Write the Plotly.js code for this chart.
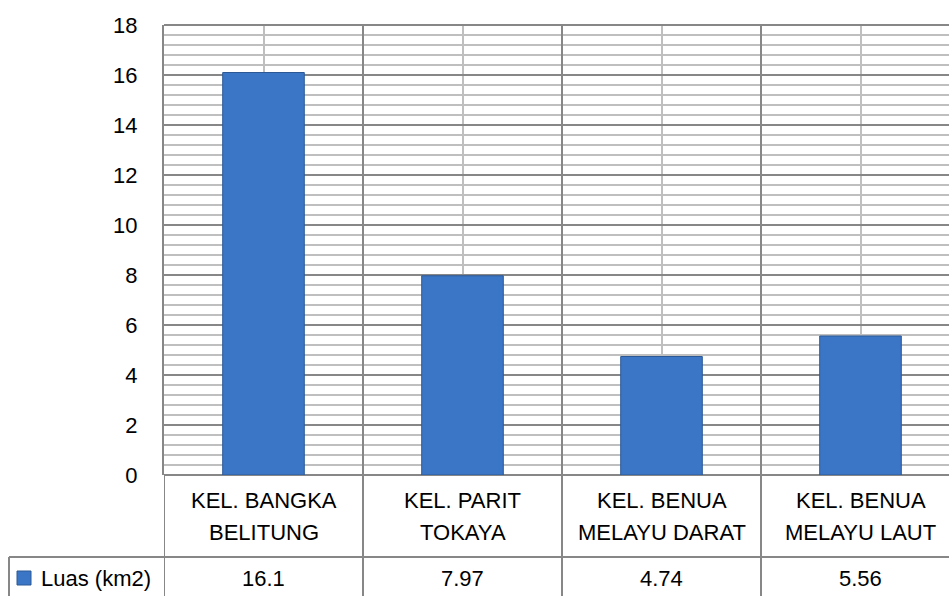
<!DOCTYPE html>
<html><head><meta charset="utf-8">
<script src="https://cdn.plot.ly/plotly-3.0.1.min.js"></script>
<style>html,body{margin:0;padding:0;background:#fff}</style>
</head><body><div id="chart" style="width:949px;height:596px"></div>
<script>
const categoryLine1 = ["KEL. BANGKA", "KEL. PARIT", "KEL. BENUA", "KEL. BENUA"];
const categoryLine2 = ["BELITUNG", "TOKAYA", "MELAYU DARAT", "MELAYU LAUT"];
const seriesName = "Luas (km2)";
const luas = [16.1, 7.97, 4.74, 5.56];
const valueLabels = ["16.1", "7.97", "4.74", "5.56"];
const yTicks = [0, 2, 4, 6, 8, 10, 12, 14, 16, 18];

const idx = categoryLine1.map((_, i) => i);
const FONT = "'Liberation Sans', Arial, sans-serif";
const FS = 22;
const TXT = "#000000";
const LINE = "#878787";
const MINOR = "#bfbfbf";

const W = 949, H = 596, L = 164, T = 25, B = 475;
const plotH = B - T, plotW = W - L;
const py = p => (B - p) / plotH;        // pixel -> paper y
const px = p => (p - L) / plotW;        // pixel -> paper x

const trace = {
  type: "bar",
  x: idx,
  y: luas,
  name: seriesName,
  width: 0.41,
  marker: { color: "#3b76c6", line: { color: "#2c5896", width: 1 } },
  hoverinfo: "skip",
  showlegend: false
};

const shapes = [];
// table vertical lines at category boundaries
for (let i = 0; i <= idx.length; i++) {
  shapes.push({ type: "line", xref: "x", yref: "paper", x0: i - 0.5, x1: i - 0.5, y0: 0, y1: py(600), line: { color: LINE, width: 2 } });
}
// horizontal line between labels row and values row
shapes.push({ type: "line", xref: "paper", yref: "paper", x0: px(9), x1: 1, y0: py(557), y1: py(557), line: { color: LINE, width: 2 } });
// left cell border
shapes.push({ type: "line", xref: "paper", yref: "paper", x0: px(9), x1: px(9), y0: py(557), y1: py(600), line: { color: LINE, width: 2 } });
// plot top border
shapes.push({ type: "line", xref: "paper", yref: "paper", x0: 0, x1: 1, y0: 1, y1: 1, line: { color: LINE, width: 2 } });
// legend key
shapes.push({ type: "rect", xref: "paper", yref: "paper", x0: px(17), x1: px(31), y0: py(571), y1: py(585), fillcolor: "#3b76c6", line: { color: "#2c5896", width: 1 } });

const annotations = [];
idx.forEach(i => {
  annotations.push({ x: i, xref: "x", y: py(501), yref: "paper", text: categoryLine1[i], showarrow: false, xanchor: "center", yanchor: "middle", font: { family: FONT, size: FS, color: TXT } });
  annotations.push({ x: i, xref: "x", y: py(532), yref: "paper", text: categoryLine2[i], showarrow: false, xanchor: "center", yanchor: "middle", font: { family: FONT, size: FS, color: TXT } });
  annotations.push({ x: i, xref: "x", y: py(578), yref: "paper", text: valueLabels[i], showarrow: false, xanchor: "center", yanchor: "middle", font: { family: FONT, size: FS, color: TXT } });
});
annotations.push({ x: px(39), xref: "paper", y: py(578), yref: "paper", text: seriesName, showarrow: false, xanchor: "left", yanchor: "middle", font: { family: FONT, size: FS, color: TXT } });

const layout = {
  width: W, height: H,
  margin: { l: L, r: 0, t: T, b: H - B, pad: 0, autoexpand: false },
  paper_bgcolor: "#ffffff", plot_bgcolor: "#ffffff",
  font: { family: FONT, size: FS, color: TXT },
  showlegend: false,
  xaxis: {
    range: [-0.5, -0.5 + plotW / 199],
    tick0: -0.5, dtick: 1, showticklabels: false, ticks: "",
    showgrid: true, gridcolor: LINE, gridwidth: 2,
    minor: { tick0: 0, dtick: 1, showgrid: true, gridcolor: MINOR, gridwidth: 2 },
    zeroline: false, showline: false, fixedrange: true, automargin: false
  },
  yaxis: {
    range: [0, 18], tickvals: yTicks, ticktext: yTicks.map(String),
    ticks: "", ticklabelstandoff: 20,
    showgrid: true, gridcolor: LINE, gridwidth: 2,
    minor: { dtick: 0.4, showgrid: true, gridcolor: MINOR, gridwidth: 2 },
    zeroline: true, zerolinecolor: LINE, zerolinewidth: 2,
    showline: true, linecolor: LINE, linewidth: 2,
    tickfont: { family: FONT, size: FS, color: TXT }, fixedrange: true, automargin: false
  },
  shapes: shapes,
  annotations: annotations
};

Plotly.newPlot("chart", [trace], layout, { displayModeBar: false, staticPlot: true });
</script></body></html>
